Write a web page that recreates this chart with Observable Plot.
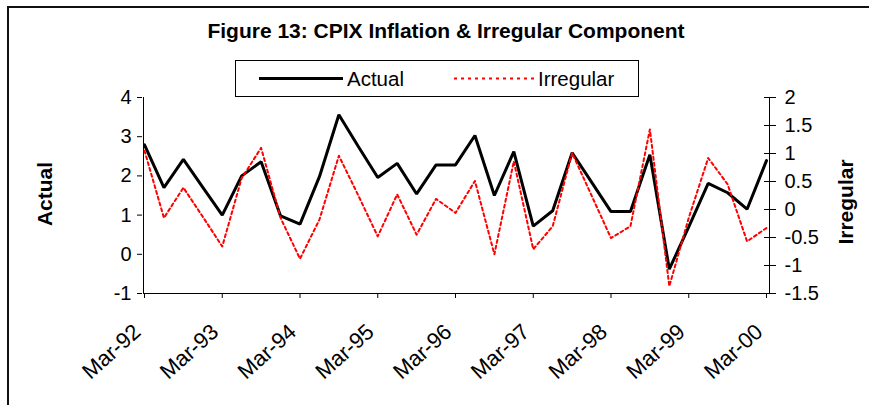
<!DOCTYPE html>
<html>
<head>
<meta charset="utf-8">
<script src="https://cdn.jsdelivr.net/npm/d3@7"></script>
<script src="https://cdn.jsdelivr.net/npm/@observablehq/plot@0.6"></script>
<style>
  html, body { margin: 0; padding: 0; background: #fff; }
  #wrap { position: relative; width: 869px; height: 405px; overflow: hidden; font-family: "Liberation Sans", Arial, sans-serif; color: #000; }
  #wrap svg { position: absolute; left: 0; top: 0; }
  .border-top { position: absolute; left: 7px; top: 6px; width: 870px; height: 2px; background: #111; }
  .border-left { position: absolute; left: 7px; top: 6px; width: 2px; height: 410px; background: #111; }
  #title { position: absolute; left: 0; width: 892px; top: 19px; text-align: center; font-weight: bold; font-size: 21px; }
  #legend { position: absolute; left: 235px; top: 60px; width: 402px; height: 35px; border: 1px solid #000; background: #fff; }
  .ytitle { position: absolute; font-weight: bold; font-size: 21px; transform: translate(-50%, -50%) rotate(-90deg); white-space: nowrap; }
</style>
</head>
<body>
<div id="wrap">
  <div id="chart"></div>
  <div class="border-top"></div>
  <div class="border-left"></div>
  <div id="title">Figure 13: CPIX Inflation &amp; Irregular Component</div>
  <div id="legend">
    <svg width="402" height="35" style="position:absolute;left:0;top:0">
      <line x1="23" x2="107" y1="17.5" y2="17.5" stroke="#000" stroke-width="3"/>
      <text x="111" y="24.5" font-size="20.5" font-family="Liberation Sans, Arial, sans-serif">Actual</text>
      <line x1="218" x2="298" y1="17.5" y2="17.5" stroke="#f00" stroke-width="2" stroke-dasharray="3,4"/>
      <text x="302" y="24.5" font-size="20.5" font-family="Liberation Sans, Arial, sans-serif">Irregular</text>
    </svg>
  </div>
  <div class="ytitle" style="left:45px; top:194px;">Actual</div>
  <div class="ytitle" style="left:846px; top:202px;">Irregular</div>
</div>
<script>
// Quarterly observations, Mar-92 .. Mar-00
const actual = [2.79, 1.70, 2.42, 1.71, 1.00, 2.00, 2.36, 0.98, 0.77, 1.98, 3.56, 2.75, 1.96, 2.32, 1.54, 2.28, 2.28, 3.03, 1.50, 2.62, 0.72, 1.11, 2.59, 1.84, 1.09, 1.09, 2.54, -0.38, 0.70, 1.81, 1.57, 1.15, 2.39];
const irregular = [1.05, -0.15, 0.39, -0.13, -0.66, 0.56, 1.10, -0.15, -0.88, -0.18, 0.96, 0.25, -0.48, 0.27, -0.45, 0.19, -0.06, 0.51, -0.80, 0.86, -0.71, -0.30, 1.01, 0.25, -0.51, -0.30, 1.43, -1.37, -0.15, 0.92, 0.45, -0.57, -0.33];
const xTickLabels = ["Mar-92", "Mar-93", "Mar-94", "Mar-95", "Mar-96", "Mar-97", "Mar-98", "Mar-99", "Mar-00"];
const leftTicks = [-1, 0, 1, 2, 3, 4];
const rightTicks = [-1.5, -1, -0.5, 0, 0.5, 1, 1.5, 2];
const leftDomain = [-1, 4];
const rightDomain = [-1.5, 2];

// map secondary-axis values onto the primary scale
const toLeft = r => leftDomain[0] + (r - rightDomain[0]) * (leftDomain[1] - leftDomain[0]) / (rightDomain[1] - rightDomain[0]);
const toRight = l => rightDomain[0] + (l - leftDomain[0]) * (rightDomain[1] - rightDomain[0]) / (leftDomain[1] - leftDomain[0]);

const data = actual.map((a, i) => ({i, actual: a, irr: irregular[i]}));
const xTicks = xTickLabels.map((_, k) => k * 4);
const font = "Liberation Sans, Arial, sans-serif";
const fmt = v => String(Math.round(v * 10) / 10);

const chart = Plot.plot({
  width: 869,
  height: 405,
  marginLeft: 143,
  marginRight: 100,
  marginTop: 97,
  marginBottom: 112,
  style: {fontFamily: font, fontSize: "20px", color: "#000", background: "transparent", overflow: "visible"},
  x: {domain: [0, 32], insetRight: 3, insetLeft: 1},
  y: {domain: leftDomain},
  marks: [
    Plot.ruleX([0], {dx: -1, stroke: "#000", strokeWidth: 1}),
    Plot.ruleX([32], {dx: 3, stroke: "#000", strokeWidth: 1}),
    Plot.ruleY([-1], {stroke: "#000", strokeWidth: 1}),
    Plot.axisY({anchor: "left", ticks: leftTicks, tickSize: 5, tickPadding: 6, label: null, fontSize: 20, dx: -1,
      tickFormat: fmt}),
    Plot.axisY({anchor: "right", ticks: rightTicks.map(toLeft), tickSize: 6, tickPadding: 9, label: null, fontSize: 20,
      tickFormat: v => fmt(toRight(v))}),
    Plot.axisY({anchor: "right", ticks: rightTicks.map(toLeft), tickSize: 6, dx: -6, label: null, tickFormat: () => ""}),
    Plot.axisX({ticks: xTicks, tickSize: 0, tickRotate: -42, tickPadding: 35, label: null, fontSize: 22, dx: -7,
      tickFormat: v => xTickLabels[v / 4]}),
    Plot.axisX({ticks: xTicks, tickSize: 5, label: null, tickFormat: () => ""}),
    Plot.line(data, {x: "i", y: "actual", stroke: "#000", strokeWidth: 3, strokeLinejoin: "miter"}),
    Plot.line(data, {x: "i", y: d => toLeft(d.irr), stroke: "#f00", strokeWidth: 2, strokeDasharray: "3,3"})
  ]
});
document.getElementById("chart").appendChild(chart);
</script>
</body>
</html>
